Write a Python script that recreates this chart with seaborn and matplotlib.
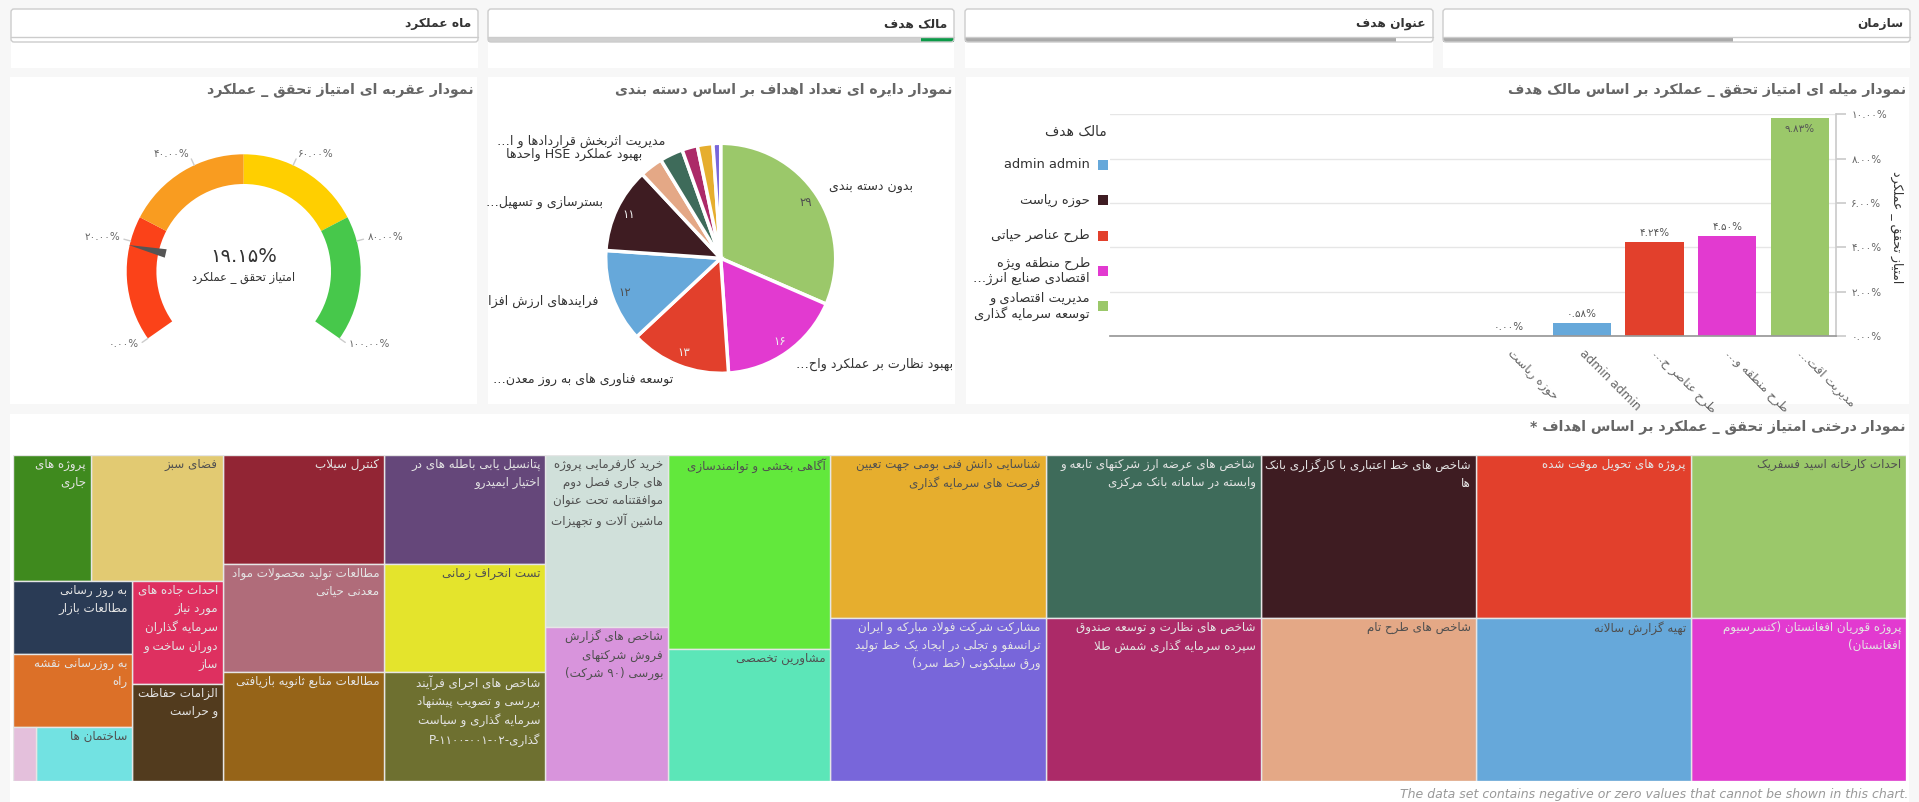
import re
import numpy as np
import pandas as pd
import matplotlib
matplotlib.use("Agg")
import matplotlib.pyplot as plt
import seaborn as sns
from matplotlib.patches import Rectangle, FancyBboxPatch, Wedge, Polygon

# ---------------- data ----------------
filter_titles = ["ماه عملکرد", "مالک هدف", "عنوان هدف", "سازمان"]
filter_fill = [0.0, 0.0, 0.92, 0.62]

gauge_title = "نمودار عقربه ای امتیاز تحقق _ عملکرد"
gauge_value = 19.15
gauge_caption = "امتیاز تحقق _ عملکرد"
gauge_bands = [0, 25, 50, 75, 100]
gauge_colors = ["#FB4219", "#F99C20", "#FFCF00", "#47C84B"]
gauge_ticks = [0, 20, 40, 60, 80, 100]

pie_title = "نمودار دایره ای تعداد اهداف بر اساس دسته بندی"
pie_labels = ["بدون دسته بندی", "بهبود نظارت بر عملکرد واح…", "توسعه فناوری های به روز معدن…",
              "فرایندهای ارزش افزا", "بسترسازی و تسهیل…", "بهبود عملکرد HSE واحدها",
              "مدیریت اثربخش قراردادها و ا…", "", "", ""]
pie_values = [29, 16, 13, 12, 11, 3, 3, 2, 2, 1]
pie_colors = ["#9BC86A", "#E23AD0", "#E2402C", "#66A8DA", "#3E1C22",
              "#E4A886", "#3E6B5A", "#AC2A68", "#E6AE2E", "#7866DA"]

bar_title = "نمودار میله ای امتیاز تحقق _ عملکرد بر اساس مالک هدف"
bar_ytitle = "امتیاز تحقق _ عملکرد"
bar_ticklabels = ["حوزه ریاست", "admin admin", "طرح عناصر ح…", "طرح منطقه و…", "مدیریت اقت…"]
bar_values = [0.0, 0.58, 4.24, 4.50, 9.83]
bar_colors = ["#3E1C22", "#66A8DA", "#E2402C", "#E23AD0", "#9BC86A"]
legend_title = "مالک هدف"
legend_labels = ["admin admin", "حوزه ریاست", "طرح عناصر حیاتی",
                 "طرح منطقه ویژه\nاقتصادی صنایع انرژ…", "مدیریت اقتصادی و\nتوسعه سرمایه گذاری"]
legend_colors = ["#66A8DA", "#3E1C22", "#E2402C", "#E23AD0", "#9BC86A"]

tree_title = "نمودار درختی امتیاز تحقق _ عملکرد بر اساس اهداف *"
tree_labels = [
    "احداث کارخانه اسید فسفریک",
    "پروژه قوریان افغانستان (کنسرسیوم افغانستان)",
    "پروژه های تحویل موقت شده",
    "تهیه گزارش سالانه",
    "شاخص های خط اعتباری با کارگزاری بانک ها",
    "شاخص های طرح تام",
    "شاخص های عرضه ارز شرکتهای تابعه و وابسته در سامانه بانک مرکزی",
    "شاخص های نظارت و توسعه صندوق سپرده سرمایه گذاری شمش طلا",
    "شناسایی دانش فنی بومی جهت تعیین فرصت های سرمایه گذاری",
    "مشارکت شرکت فولاد مبارکه و ایران ترانسفو و تجلی در ایجاد یک خط تولید ورق سیلیکونی (خط سرد)",
    "آگاهی بخشی و توانمندسازی",
    "مشاورین تخصصی",
    "خرید کارفرمایی پروژه های جاری فصل دوم موافقتنامه تحت عنوان ماشین آلات و تجهیزات",
    "شاخص های گزارش فروش شرکتهای بورسی (۹۰ شرکت)",
    "پتانسیل یابی باطله های در اختیار ایمیدرو",
    "تست انحراف زمانی",
    "شاخص های اجرای فرآیند بررسی و تصویب پیشنهاد سرمایه گذاری و سیاست گذاری-P-۱۱۰۰-۰۰۱-۰۲",
    "کنترل سیلاب",
    "مطالعات تولید محصولات مواد معدنی حیاتی",
    "مطالعات منابع ثانویه بازیافتی",
    "فضای سبز",
    "پروژه های جاری",
    "احداث جاده های مورد نیاز سرمایه گذاران دوران ساخت و ساز",
    "الزامات حفاظت و حراست",
    "به روز رسانی مطالعات بازار",
    "به روزرسانی نقشه راه",
    "ساختمان ها",
    "",
]
tree_values = [100, 100, 100, 100, 100, 100, 100, 100, 100, 100,
               90, 61, 60, 54, 50, 50, 50, 50, 50, 50,
               47.5, 28, 26.5, 25, 24.8, 24.8, 15, 3.5]
tree_colors = ["#9BC86A", "#E23AD0", "#E2402C", "#66A8DA", "#3E1C22", "#E4A886", "#3E6B5A",
               "#AC2A68", "#E6AE2E", "#7866DA", "#62E83C", "#5CE6B8", "#D0E0DA", "#D894DC",
               "#65477A", "#E4E42C", "#6E7030", "#922534", "#B06C7A", "#966418", "#E2CA72",
               "#3F8A1E", "#DE3060", "#523B1E", "#2A3B55", "#DC7028", "#72E2E2", "#E4C0DC"]
footnote = "The data set contains negative or zero values that cannot be shown in this chart."

# ---------------- Persian shaping / bidi ----------------
DUAL = {'ئ': 0xFE89, 'ب': 0xFE8F, 'ت': 0xFE95, 'ث': 0xFE99, 'ج': 0xFE9D, 'ح': 0xFEA1, 'خ': 0xFEA5,
        'س': 0xFEB1, 'ش': 0xFEB5, 'ص': 0xFEB9, 'ض': 0xFEBD, 'ط': 0xFEC1, 'ظ': 0xFEC5, 'ع': 0xFEC9,
        'غ': 0xFECD, 'ف': 0xFED1, 'ق': 0xFED5, 'ك': 0xFED9, 'ل': 0xFEDD, 'م': 0xFEE1, 'ن': 0xFEE5,
        'ه': 0xFEE9, 'ي': 0xFEF1, 'پ': 0xFB56, 'چ': 0xFB7A, 'ک': 0xFB8E, 'گ': 0xFB92, 'ی': 0xFBFC}
RIGHT = {'آ': 0xFE81, 'أ': 0xFE83, 'ؤ': 0xFE85, 'إ': 0xFE87, 'ا': 0xFE8D, 'ة': 0xFE93, 'د': 0xFEA9,
         'ذ': 0xFEAB, 'ر': 0xFEAD, 'ز': 0xFEAF, 'و': 0xFEED, 'ى': 0xFEEF, 'ژ': 0xFB8A}
LAMALEF = {'ا': 0xFEFB, 'آ': 0xFEF5, 'أ': 0xFEF7, 'إ': 0xFEF9}
MIRROR = str.maketrans('()[]{}<>', ')(][}{><')
ARABIC = re.compile('[\u0600-\u06FF\uFB50-\uFDFF\uFE70-\uFEFF]')
LRUN = re.compile(r'[A-Za-z0-9\u06F0-\u06F9](?:[A-Za-z0-9\u06F0-\u06F9.,%\-/:]|(?<=[A-Za-z]) (?=[A-Za-z]))*')


def shape(s):
    out = []
    n = len(s)
    i = 0
    while i < n:
        c = s[i]
        if c not in DUAL and c not in RIGHT:
            out.append(c)
            i += 1
            continue
        prev = s[i - 1] if i > 0 else None
        cp = prev is not None and prev in DUAL
        if c == 'ل' and i + 1 < n and s[i + 1] in LAMALEF:
            b = LAMALEF[s[i + 1]]
            out.append(chr(b + 1 if cp else b))
            i += 2
            continue
        nxt = s[i + 1] if i + 1 < n else None
        cn = c in DUAL and nxt is not None and (nxt in DUAL or nxt in RIGHT)
        b = DUAL.get(c, RIGHT.get(c))
        if cp and cn:
            g = b + 3
        elif cp:
            g = b + 1
        elif cn:
            g = b + 2
        else:
            g = b
        out.append(chr(g))
        i += 1
    return ''.join(out)


def reorder(s):
    if not ARABIC.search(s):
        return s
    parts = []
    pos = 0
    for m in LRUN.finditer(s):
        if m.start() > pos:
            parts.append(('R', s[pos:m.start()]))
        parts.append(('L', m.group()))
        pos = m.end()
    if pos < len(s):
        parts.append(('R', s[pos:]))
    out = []
    for kind, t in reversed(parts):
        out.append(t if kind == 'L' else t[::-1].translate(MIRROR))
    return ''.join(out)


def fa(s):
    return '\n'.join(reorder(shape(line)) for line in s.split('\n'))


FA_DIGITS = str.maketrans('0123456789', '۰۱۲۳۴۵۶۷۸۹')


def fnum(v, fmt="{:.2f}%"):
    return fmt.format(v).translate(FA_DIGITS)


def luminance(hexc):
    r, g, b = (int(hexc[i:i + 2], 16) for i in (1, 3, 5))
    return 0.299 * r + 0.587 * g + 0.114 * b


# ---------------- figure ----------------
sns.set_theme(style="white")
plt.rcParams['font.family'] = ['DejaVu Sans']
W, H = 1919, 802
fig = plt.figure(figsize=(W / 100, H / 100), dpi=100)
fig.patch.set_facecolor('#f7f7f7')
renderer = fig.canvas.get_renderer()


def px_axes(x0, y0, x1, y1):
    return fig.add_axes([x0 / W, 1 - y1 / H, (x1 - x0) / W, (y1 - y0) / H])


bg = fig.add_axes([0, 0, 1, 1])
bg.set_xlim(0, W)
bg.set_ylim(H, 0)
bg.axis('off')
bg.patch.set_alpha(0)


def panel(x0, y0, x1, y1):
    bg.add_patch(Rectangle((x0, y0), x1 - x0, y1 - y0, facecolor='white', edgecolor='none'))


TITLE_KW = dict(ha='right', va='center', fontsize=10.2, fontweight='bold', color='#666666')

# filters
filter_boxes = [(11, 478), (488, 954), (965, 1433), (1443, 1910)]
for k, ((x0, x1), t) in enumerate(zip(filter_boxes, filter_titles)):
    panel(x0, 9, x1, 68)
    if k == 1:
        bg.add_patch(Rectangle((x0, 37), x1 - x0, 5, facecolor='#d0d0d0', edgecolor='none'))
        bg.add_patch(Rectangle((x1 - 33, 37), 33, 5, facecolor='#0b9a48', edgecolor='none'))
    elif filter_fill[k] > 0:
        bg.add_patch(Rectangle((x0, 37), (x1 - x0) * filter_fill[k], 5, facecolor='#aaaaaa', edgecolor='none'))
    bg.add_patch(FancyBboxPatch((x0, 9), x1 - x0, 33, boxstyle="round,pad=0,rounding_size=3",
                                facecolor='none', edgecolor='#cccccc', lw=1))
    bg.plot([x0, x1], [37, 37], color='#cccccc', lw=1)
    bg.text(x1 - 7, 24, fa(t), ha='right', va='center', fontsize=8.8, fontweight='bold', color='#333333')

# panels
panel(10, 77, 477, 404)
panel(488, 77, 955, 404)
panel(966, 77, 1909, 404)
panel(10, 414, 1909, 802)

bg.text(474, 90, fa(gauge_title), **TITLE_KW)
bg.text(952, 90, fa(pie_title), **TITLE_KW)
bg.text(1906, 90, fa(bar_title), **TITLE_KW)
bg.text(1906, 427, fa(tree_title), **TITLE_KW)

# ---------------- gauge ----------------
gx = px_axes(10, 100, 477, 404)
gx.set_xlim(10, 477)
gx.set_ylim(H - 404, H - 100)
gx.axis('off')
cx, cy = 243.7, H - 271.3
R, RIN = 117.0, 87.3


def g_ang(v):
    return 215 - v / 100 * 250


for lo, hi, c in zip(gauge_bands[:-1], gauge_bands[1:], gauge_colors):
    gx.add_patch(Wedge((cx, cy), R, g_ang(hi), g_ang(lo), width=R - RIN, facecolor=c, edgecolor='none'))
for v in gauge_ticks:
    a = np.radians(g_ang(v))
    ca, sa = np.cos(a), np.sin(a)
    gx.plot([cx + R * ca, cx + (R + 7) * ca], [cy + R * sa, cy + (R + 7) * sa], color='#cccccc', lw=1)
    gx.text(cx + (R + 11) * ca, cy + (R + 11) * sa + 1, fnum(v), ha='right' if ca < 0 else 'left',
            va='center', fontsize=7.5, color='#666666')
a = np.radians(g_ang(gauge_value))
ca, sa = np.cos(a), np.sin(a)
pa, pb = -sa, ca
needle = [(cx + 118 * ca, cy + 118 * sa),
          (cx + 80 * ca + 4.3 * pa, cy + 80 * sa + 4.3 * pb),
          (cx + 80 * ca - 4.3 * pa, cy + 80 * sa - 4.3 * pb)]
gx.add_patch(Polygon(needle, closed=True, facecolor='#555555', edgecolor='none'))
gx.text(cx, cy + 14.6, fnum(gauge_value), ha='center', va='center', fontsize=14, color='#333333')
gx.text(cx, cy - 6, fa(gauge_caption), ha='center', va='center', fontsize=8.3, color='#333333')

# ---------------- pie ----------------
pcx, pcy, pr = 720.7, 258.3, 115.0
pax = px_axes(pcx - pr, pcy - pr, pcx + pr, pcy + pr)
wedges, _ = pax.pie(pie_values, colors=pie_colors, startangle=90, counterclock=False, radius=1,
                    wedgeprops=dict(edgecolor='white', linewidth=2.5))
pax.set_xlim(-1, 1)
pax.set_ylim(-1, 1)
for w, lab, val, col in zip(wedges, pie_labels, pie_values, pie_colors):
    mid = np.radians((w.theta1 + w.theta2) / 2)
    cm, sm = np.cos(mid), np.sin(mid)
    if lab:
        pax.text(1.13 * cm, 1.13 * sm, fa(lab), ha='left' if cm > 0 else 'right', va='center',
                 fontsize=9.1, color='#333333')
    if val >= 10:
        pax.text(0.885 * cm, 0.885 * sm, fnum(val, "{:d}"), ha='center', va='center', fontsize=8.5,
                 color='#505050' if luminance(col) > 150 else '#eeeeee')

# ---------------- bar ----------------
bx = px_axes(1110, 114.3, 1836, 336)
df = pd.DataFrame({'owner': bar_ticklabels, 'value': bar_values})
sns.barplot(data=df, x='owner', y='value', hue='owner', palette=bar_colors, legend=False,
            width=0.8, saturation=1, ax=bx, linewidth=0)
bx.set_xlim(-5.5, 4.5)
bx.set_ylim(0, 10)
bx.set_yticks(range(0, 11, 2))
bx.set_yticklabels([fnum(v) for v in range(0, 11, 2)])
bx.yaxis.tick_right()
bx.set_xticks(range(len(bar_ticklabels)))
bx.set_xticklabels([fa(t) for t in bar_ticklabels], rotation=-45, ha='left', va='center',
                   rotation_mode='anchor', fontsize=8.8, color='#666666')
bx.tick_params(axis='x', length=0, pad=11)
bx.tick_params(axis='y', length=7, color='#cccccc', labelsize=7.5, labelcolor='#666666', pad=4, direction='out')
bx.set_xlabel('')
bx.set_ylabel('')
bx.yaxis.grid(True, color='#e6e6e6', lw=1)
bx.set_axisbelow(True)
bx.patch.set_alpha(0)
for s in ['top', 'left']:
    bx.spines[s].set_visible(False)
bx.spines['right'].set_color('#cccccc')
bx.spines['bottom'].set_color('#999999')
for i, v in enumerate(bar_values):
    if v > 9:
        bx.text(i, v - 0.25, fnum(v), ha='center', va='top', fontsize=7.5, color='#555555')
    else:
        bx.text(i, v + 0.2, fnum(v), ha='center', va='bottom', fontsize=7.5, color='#555555')
bg.text(1897, 227, fa(bar_ytitle), rotation=270, ha='center', va='center', fontsize=9, color='#333333')

# legend
bg.text(1107, 132, fa(legend_title), ha='right', va='center', fontsize=10, color='#333333')
for k, (lab, col) in enumerate(zip(legend_labels, legend_colors)):
    yy = 165 + k * 35.3
    bg.add_patch(Rectangle((1098, yy - 5), 10, 10, facecolor=col, edgecolor='none'))
    bg.text(1090, yy, fa(lab), ha='right', va='center', fontsize=9.4, color='#333333',
            multialignment='right', linespacing=1.15)

# ---------------- treemap ----------------
TX0, TY0, TX1, TY1 = 13, 455, 1906, 781
TW, TH = TX1 - TX0, TY1 - TY0
tax = px_axes(TX0, TY0, TX1, TY1)
tax.set_xlim(0, TW)
tax.set_ylim(TH, 0)
tax.axis('off')


def worst(row, side):
    s = sum(row)
    return max(max(side * side * r / (s * s), (s * s) / (side * side * r)) for r in row)


def squarify(vals, x, y, w, h):
    rects = {}
    idx = list(np.argsort(-np.asarray(vals), kind='stable'))
    while idx:
        side = min(w, h)
        row = [idx[0]]
        i = 1
        while i < len(idx):
            cand = row + [idx[i]]
            if worst([vals[j] for j in cand], side) <= worst([vals[j] for j in row], side):
                row = cand
                i += 1
            else:
                break
        s = sum(vals[j] for j in row)
        if w >= h:
            cw = s / h
            yy = y
            for j in row:
                ch = vals[j] / cw
                rects[j] = (x, yy, cw, ch)
                yy += ch
            x += cw
            w -= cw
        else:
            rh = s / w
            xx = x
            for j in row:
                cw = vals[j] / rh
                rects[j] = (xx, y, cw, rh)
                xx += cw
            y += rh
            h -= rh
        idx = idx[len(row):]
    return rects


unit = TW * TH / sum(tree_values)
areas = [v * unit for v in tree_values]
rects = squarify(areas, 0, 0, TW, TH)


def text_width(s, fs):
    t = tax.text(0, 0, fa(s), fontsize=fs)
    wdt = t.get_window_extent(renderer).width
    t.remove()
    return wdt


def wrap(label, maxw, fs):
    lines, cur = [], ''
    for wd in label.split():
        test = (cur + ' ' + wd).strip()
        if not cur or text_width(test, fs) <= maxw:
            cur = test
        else:
            lines.append(cur)
            cur = wd
    if cur:
        lines.append(cur)
    return '\n'.join(lines)


TFS = 8.6
for j, (x, y, w, h) in rects.items():
    xm = TW - (x + w)  # right-to-left mirroring
    col = tree_colors[j]
    tax.add_patch(Rectangle((xm, y), w, h, facecolor=col, edgecolor='#e6e6e6', lw=1))
    lab = tree_labels[j]
    if lab:
        txt = wrap(lab, w - 8, TFS)
        tax.text(xm + w - 5, y + 3, fa(txt), ha='right', va='top', fontsize=TFS,
                 multialignment='right', linespacing=1.5,
                 color='#505050' if luminance(col) > 150 else '#e4e4e4')

bg.text(1400, 788, footnote, ha='left', va='top', fontsize=9, fontstyle='italic', color='#999999')

fig.savefig('out.png', dpi=100, facecolor=fig.get_facecolor())
